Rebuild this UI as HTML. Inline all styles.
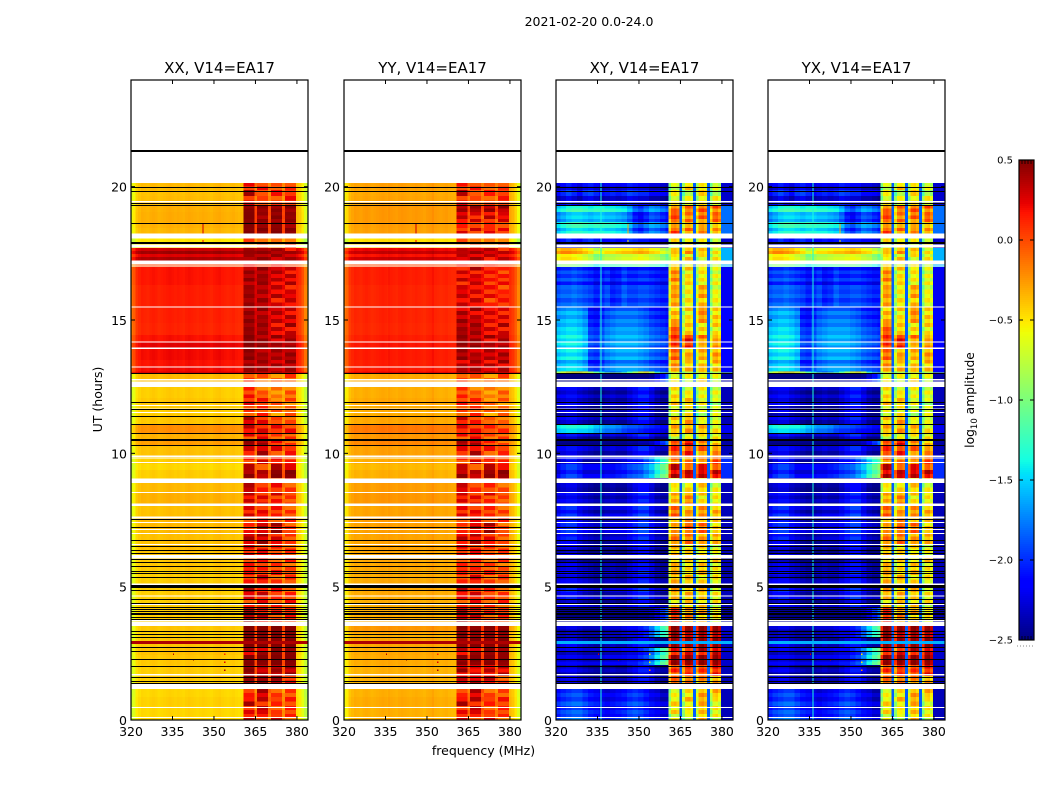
<!DOCTYPE html>
<html lang="en">
<head>
<meta charset="utf-8">
<title>2021-02-20 0.0-24.0</title>
<style>
html,body{margin:0;padding:0;background:#fff;width:1050px;height:800px;overflow:hidden}
svg{display:block}
text{font-family:"DejaVu Sans","Liberation Sans",sans-serif;fill:#000}
</style>
</head>
<body>
<svg id="figure" xmlns="http://www.w3.org/2000/svg" width="1050" height="800" viewBox="0 0 1050 800">
<rect x="0" y="0" width="1050" height="800" fill="#fff"/>
<text x="589" y="26" font-size="12.5" text-anchor="middle">2021-02-20 0.0-24.0</text>
<text x="483.5" y="755" font-size="12.5" text-anchor="middle">frequency (MHz)</text>
<text transform="translate(102,399.5) rotate(-90)" font-size="12.5" text-anchor="middle">UT (hours)</text>
<text transform="translate(974,400) rotate(-90)" font-size="12.3" text-anchor="middle">log<tspan font-size="8.5" dy="3">10</tspan><tspan dy="-3"> amplitude</tspan></text>
<g id="panels"></g>
<g id="colorbar"></g>
</svg>
<script>
// ---- categories and tick labels ----
const panelTitles = ['XX, V14=EA17', 'YY, V14=EA17', 'XY, V14=EA17', 'YX, V14=EA17'];
const xTicks = [320, 335, 350, 365, 380];
const yTicks = [0, 5, 10, 15, 20];
const colorbarTicks = [0.5, 0, -0.5, -1, -1.5, -2, -2.5];

// ---- time bands (UT hour at the top of each band, ordered downward) ----
const bandTopHours = [
 20.13,19.87,19.65,19.31,19.05,18.67,18.45,18.22,17.89,17.7,
 17.59,17.48,17.36,17.21,16.99,16.31,15.49,14.89,14.44,14.18,
 13.91,13.5,13.24,13.07,13.0,12.49,12.07,11.81,11.4,11.1,
 10.75,10.5,10.27,9.9,9.6,9.38,9.07,8.89,8.55,8.02,
 7.61,7.42,7.01,6.6,6.08,5.62,5.1,4.65,4.24,3.53,
 3.27,3.08,2.7,2.44,2.06,1.65,1.16,0.86,0.52,0.23];

// ---- XX off-RFI level of each band (log10 amplitude) ----
const xxBase = [
 -.36,-.38,-.37,-.33,-.32,-.33,-.35,-.5,-.5,.3,
 .42,.25,.38,0,.17,.14,.13,.12,.18,.24,
 .2,.18,.2,.25,-.36,-.42,-.4,-.42,-.4,-.22,
 -.33,-.27,-.38,-.42,-.46,-.42,-.42,-.36,-.33,-.38,
 -.35,-.36,-.38,-.38,-.4,-.42,-.42,-.42,-.42,-.4,
 -.42,-.4,-.38,-.4,-.42,-.42,-.45,-.43,-.45,-.45];

// ---- YY off-RFI level of each band ----
const yyBase = [
 -.28,-.3,-.29,-.26,-.26,-.27,-.28,-.48,-.45,.22,
 .32,.18,.3,0,.14,.12,.12,.11,.14,.17,
 .15,.14,.15,.2,-.3,-.32,-.3,-.32,-.3,-.15,
 -.25,-.2,-.28,-.32,-.36,-.33,-.32,-.27,-.25,-.29,
 -.27,-.28,-.29,-.29,-.3,-.31,-.31,-.32,-.32,-.25,
 -.32,-.3,-.3,-.31,-.33,-.33,-.33,-.31,-.33,-.33];

// ---- XX level of the four RFI blocks in each band ----
const xxBlocks = [
 [.15,.05,-.05,.05],[.3,.15,.1,.2],[.1,0,0,.1],[.48,.45,.45,.45],[.5,.42,.45,.45],
 [.48,.45,.45,.42],[.5,.48,.48,.48],[-.1,-.1,-.2,-.1],[-.1,-.1,-.1,-.1],[.4,.42,.35,.3],
 [.45,.45,.4,.4],[.35,.4,.3,.3],[.4,.42,.38,.35],[.1,.1,.1,.1],[.4,.42,.3,.25],
 [.42,.38,.25,.25],[.42,.4,.3,.28],[.45,.42,.25,.3],[.48,.4,.35,.38],[.48,.45,.4,.4],
 [.45,.4,.38,.4],[.42,.4,.35,.4],[.45,.42,.35,.42],[.45,.42,.38,.42],[.02,-.1,-.1,0],
 [.05,-.05,-.2,-.1],[.2,.1,-.1,-.1],[0,.05,-.15,-.1],[.35,.1,0,-.05],[.25,.25,.15,.1],
 [.1,.15,0,-.05],[.45,.4,.1,.05],[.2,.35,.1,.1],[.1,.15,.15,.1],[.25,.1,.3,.35],
 [.4,.35,.48,.48],[.1,.1,.1,.1],[.35,.1,.1,.05],[.25,.15,.15,0],[.15,.2,.1,0],
 [.1,.1,.05,0],[.1,.35,.35,.05],[.35,.3,.25,0],[.15,.2,.05,.02],[.15,.1,0,0],
 [.1,.2,.05,.02],[.3,.3,.1,.05],[.12,.15,.05,.05],[.4,.25,.1,.1],[.5,.5,.5,.5],
 [.5,.48,.5,.5],[.5,.5,.5,.5],[.3,.35,.5,.45],[.5,.5,.5,.5],[.45,.3,.4,.35],
 [.45,.45,.4,.2],[.1,.3,.05,0],[.3,.2,.05,.1],[.1,.3,0,.05],[.3,.05,.2,0]];

// ---- YY blocks read relative to XX: one shift per block, one per band ----
const yyBlockShift = [-.04, -.02, -.03, -.03];
const yyBandShift = [
 0,0,0,-.02,-.2,-.35,-.3,0,0,-.05,
 -.05,-.05,-.05,0,-.15,-.12,-.05,0,0,0,
 -.02,-.04,-.02,0,0,0,-.02,0,-.05,-.05,
 0,-.02,-.02,0,0,0,0,-.03,0,0,
 .05,-.02,-.02,0,0,0,-.02,0,-.02,0,
 -.02,0,0,0,-.08,-.12,0,.05,.02,0];

// ---- cross-hand (XY / YX) level of the four RFI blocks in each band ----
const crossBlocks = [
 [-.65,-.45,-.5,-.6],[-.6,-.6,-.45,-.65],[-.6,-.55,-.5,-.55],[-.05,-.1,-.02,-.05],[.02,-.12,-.1,-.05],
 [-.3,-.25,-.3,-.3],[.05,-.15,-.2,-.2],[-.55,-.5,-.55,-.6],[-.55,-.5,-.55,-.6],[-.4,-.3,-.4,-.5],
 [-.3,-.2,-.35,-.45],[-.55,-.5,-.55,-.6],[-.45,-.4,-.5,-.5],[-.5,-.5,-.5,-.6],[-.2,-.45,-.5,-.6],
 [-.25,-.5,-.3,-.55],[-.35,-.45,-.2,-.4],[0,-.4,-.45,-.45],[.1,.18,-.15,-.3],[.12,.1,-.3,-.2],
 [-.1,-.25,-.3,-.25],[-.15,-.4,-.4,-.35],[-.2,-.3,-.25,-.3],[-.6,-.6,-.55,-.7],[-.55,-.6,-.4,-.6],
 [-.5,-.5,-.55,-.6],[-.3,-.35,-.55,-.7],[-.6,-.5,-.7,-.6],[-.35,-.3,-.55,-.6],[-.3,-.2,-.3,-.5],
 [-.6,-.6,-.5,-.55],[0,.25,-.2,-.3],[.1,.15,-.1,-.2],[-.1,-.2,-.2,.05],[.3,.1,.2,.1],
 [.3,.35,.35,.3],[-.4,-.4,-.4,-.5],[-.5,-.45,-.4,-.5],[-.3,-.2,-.45,-.5],[-.1,-.2,-.2,-.3],
 [-.2,-.2,-.25,-.45],[-.25,0,-.1,-.35],[-.1,-.15,-.2,-.3],[-.35,-.4,-.45,-.6],[-.3,-.45,-.4,-.45],
 [-.3,-.35,-.4,-.5],[-.3,-.25,-.35,-.5],[-.4,-.4,-.4,-.55],[.15,-.2,-.3,-.5],[.5,.5,.5,.5],
 [.45,.35,.35,.4],[.5,.45,.5,.5],[.2,.2,.3,.3],[.5,.5,.5,.5],[.05,.1,.1,.15],
 [-.05,-.1,-.2,-.2],[-.55,-.5,-.2,-.3],[-.45,-.4,-.3,-.5],[-.5,-.5,-.35,-.55],[-.55,-.7,-.35,-.6]];

// ---- cross-hand spectral shapes below 360 MHz, each value covers 2 channels ----
const crossShapeNavy  = [-2.3,-2.25,-2.2,-2.2,-2.3,-2.35,-2.4,-2.45,-2.45,-2.4,-2.35,-2.4,-2.4,-2.3,-2.2,-2.1,-2.1,-2.25,-2.4,-2.45,-2.45];
const crossShapeMid   = [-2.2,-2.1,-2.05,-2.05,-2.2,-2.3,-2.35,-2.4,-2.4,-2.35,-2.3,-2.3,-2.3,-2.2,-2.1,-2.0,-2.0,-2.2,-2.35,-2.4,-2.45];
const crossShapeDark  = [-2.5,-2.5,-2.5,-2.5,-2.5,-2.5,-2.5,-2.5,-2.5,-2.5,-2.5,-2.5,-2.5,-2.45,-2.45,-2.4,-2.4,-2.35,-2.2,-2.0,-1.8];
const crossShapeTail  = [-2.4,-2.4,-2.35,-2.35,-2.4,-2.45,-2.45,-2.45,-2.45,-2.4,-2.4,-2.4,-2.35,-2.3,-2.3,-2.2,-2.1,-1.9,-1.6,-1.35,-1.2];
const crossShapeEarly = [-2.15,-2.05,-2.0,-1.95,-1.95,-2.05,-2.15,-2.2,-2.25,-2.3,-2.25,-2.2,-2.15,-2.05,-2.0,-2.05,-2.15,-2.25,-2.3,-2.4,-2.4];
const crossShapeDim   = [-2.0,-1.95,-1.95,-1.9,-1.95,-2.0,-2.05,-2.15,-2.1,-2.0,-2.15,-2.1,-1.95,-2.05,-2.05,-2.0,-2.0,-2.05,-2.1,-2.15,-2.15];
const crossShapeSky   = [-1.6,-1.55,-1.5,-1.5,-1.55,-1.65,-2.0,-2.05,-1.95,-1.8,-1.75,-1.7,-1.7,-1.7,-1.7,-1.75,-1.8,-1.9,-1.95,-2.0,-2.05];
const crossShapeAqua  = [-1.5,-1.4,-1.3,-1.25,-1.25,-1.3,-1.35,-1.3,-1.3,-1.35,-1.35,-1.4,-1.45,-1.6,-1.85,-1.95,-1.8,-1.65,-1.7,-1.8,-1.9];
const crossShapeLate  = [-2.3,-2.2,-2.1,-2.2,-2.3,-2.15,-2.1,-2.2,-2.3,-2.25,-2.2,-2.25,-2.2,-2.1,-2.15,-2.2,-2.2,-2.3,-2.3,-2.35,-2.4];
const crossShapeGlow  = [-.8,-.7,-.7,-.75,-.8,-.9,-1.0,-1.2,-1.1,-1.0,-1.0,-.95,-.9,-.9,-.85,-.8,-.85,-.95,-1.0,-1.15,-1.3];
const crossShapeStrip = [-1.5,-1.45,-1.4,-1.4,-1.45,-1.45,-1.5,-1.6,-1.7,-1.75,-1.75,-1.8,-1.9,-1.95,-1.95,-2.0,-2.05,-2.1,-2.15,-2.2,-2.25];
const crossShapeRise  = [-2.35,-2.2,-2.1,-2.1,-2.2,-2.35,-2.35,-2.35,-2.35,-2.3,-2.3,-2.25,-2.2,-2.1,-2.05,-2.0,-1.85,-1.7,-1.45,-1.25,-1.1];
const crossShapeFlare = [-.9,-.6,-.4,-.3,-.3,-.5,-.9,-1.3,-1.6,-1.9,-2.0,-1.9,-1.7,-1.3,-.9,-.5,-.4,-.8,-1.6,-1.9,-2.0];
const crossShapes = [crossShapeNavy, crossShapeMid, crossShapeDark, crossShapeTail, crossShapeEarly, crossShapeDim, crossShapeSky, crossShapeAqua, crossShapeLate, crossShapeGlow, crossShapeStrip, crossShapeRise, crossShapeFlare];
// level above 380 MHz belonging to each shape
const crossRightOfShape = [-2.35,-2.35,-2.4,-2.3,-2.35,-2.2,-2.15,-1.8,-2.3,-1.6,-2.2,-2.0,-2.2];

// ---- which shape each band uses, and that band's offset from it ----
const crossShapeOfBand = [
 8,8,8,7,7,7,7,8,8,9,
 9,9,9,9,5,5,6,6,6,6,
 6,6,6,12,2,0,0,0,0,10,
 0,2,0,11,11,11,0,0,0,1,
 1,1,1,0,0,0,1,0,2,3,
 3,0,3,3,0,0,4,4,4,4];
const crossOffset = [
 0,.1,-.05,.05,-.25,0,-.1,0,0,.35,
 .55,.1,.3,-.3,0,.1,-.1,.05,.1,.1,
 .05,0,.1,0,-.05,0,.08,-.05,.05,0,
 .02,0,.05,0,.1,.1,0,-.05,.05,0,
 .1,.05,0,-.05,0,.03,-.03,.05,0,.05,
 -.05,.05,.1,.15,-.05,0,.05,.1,.05,.2];

// ---- fine horizontal streaks read from the blocks ----
const streakOffsets = [.08,-.14,.12,-.07,.16,-.18,.05,-.03,.1,-.09];

// ---- channel spectra: 65 channels, 1 MHz each, beginning at 319.6 MHz ----
const channelStartMHz = 319.6;
const parallelLeftOffset = [
 -.3,-.2,-.07,-.03,0,-.01,-.02,0,.01,0,
 -.02,-.01,0,.01,.02,.01,0,.01,0,-.01,
 .01,.02,.01,0,-.01,0,.01,0,-.01,-.02,
 0,.01,.02,0,-.01,-.02,-.01,0,-.02,-.03,-.03];
const parallelWeights = [1,1,1,1,.45,1,1,1,1,.45,1,1,1,1,.45,1,1,1,1];
const parallelRightOffset = [-.03,-.08,-.18,-.32,-.5,-.6];
const crossBlockEdge = [-.4,-.04,0,-.1,-1.85,-.4,-.04,0,-.1,-1.85,-.4,-.04,0,-.1,-1.85,-.4,-.04,0,-.15];

// ---- flagged rows: white gaps (top and bottom hour) ----
const whiteGapTop = [
 19.46,18.24,17.83,17.23,17.04,15.5,14.19,13.96,13.25,12.78,
 12.69,11.82,11.69,11.55,9.91,9.84,9.67,9.06,8.55,8.12,
 7.63,7.43,7.17,7.02,6.6,6.19,5.11,4.87,4.67,4.36,
 3.76,3.69,1.72,1.35,0.49,0.11];
const whiteGapBottom = [
 19.41,18.06,17.71,17.08,17.0,15.46,14.15,13.92,13.21,12.74,
 12.49,11.78,11.65,11.51,9.87,9.8,9.63,8.89,8.51,8.02,
 7.56,7.39,7.13,6.98,6.56,6.06,5.07,4.83,4.63,4.32,
 3.72,3.53,1.67,1.16,0.45,0.07];

// ---- flagged rows: black lines (hour) ----
const blackLineHours = [
 19.97,19.82,19.37,19.31,18.62,13.0,11.91,11.65,11.4,11.1,
 10.75,10.3,7.53,7.22,6.74,6.54,6.38,6.25,6.03,5.91,
 5.78,5.6,5.5,5.35,5.06,4.88,4.53,4.4,4.22,4.17,
 4.09,3.85,3.77,3.35,3.23,3.12,2.73,2.59,2.29,2.01,
 1.62,1.47,1.38];
const thickBlackLineHours = [21.33, 17.87, 10.51, 4.97, 3.96];

// ---- narrow features: frequency, hour span, parallel and cross level ----
const spikeFreq     = [345.8, 345.8, 335.2, 353.7, 353.7, 353.7, 342.4];
const spikeTopHour  = [18.62, 18.0, 2.5, 2.5, 2.2, 1.9, 2.29];
const spikeEndHour  = [18.24, 17.92, 2.44, 2.44, 2.14, 1.84, 2.23];
const spikeParallel = [.3, .2, .35, .1, .25, .4, .5];
const spikeCross    = [-.4, -.5, .3, -.5, -.5, -.2, .3];
const yyLineFreq = [336, 352];
const yyLineOffset = [.05, .06];
const crossLineFreq = [336];
const crossLineLevel = [-1.35];
const fullRowHour = [2.96, 13.03];
const fullRowSpan = [0.11, 0.04];
const fullRowParallel = [.38, .3];
const fullRowCross = [-1.6, -.9];

// ---- axis geometry and scales ----
const panelLeft = [131, 344, 556, 768];
const panelWidth = 177;
const plotTop = 80;
const plotBottom = 720;
const xMin = 320, xMax = 384, yMin = 0, yMax = 24;
function xScale(panel, mhz) { return panelLeft[panel] + (mhz - xMin) / (xMax - xMin) * panelWidth; }
function yScale(hour) { return plotBottom - (hour - yMin) / (yMax - yMin) * (plotBottom - plotTop); }
const vMin = -2.5, vMax = 0.5;
const barTop = 160, barBottom = 640, barLeft = 1019, barRight = 1034;
function barScale(v) { return barBottom - (v - vMin) / (vMax - vMin) * (barBottom - barTop); }

function piece(x, pts) {
  for (let i = 1; i < pts.length; i++) {
    if (x <= pts[i][0]) {
      const a = pts[i - 1], b = pts[i];
      return a[1] + (b[1] - a[1]) * (x - a[0]) / (b[0] - a[0]);
    }
  }
  return pts[pts.length - 1][1];
}
function jet(v) {
  const t = Math.max(0, Math.min(1, (v - vMin) / (vMax - vMin)));
  const r = piece(t, [[0, 0], [.35, 0], [.66, 1], [.89, 1], [1, .5]]);
  const g = piece(t, [[0, 0], [.125, 0], [.375, 1], [.64, 1], [.91, 0], [1, 0]]);
  const b = piece(t, [[0, .5], [.11, 1], [.34, 1], [.65, 0], [1, 0]]);
  return 'rgb(' + Math.round(r * 255) + ',' + Math.round(g * 255) + ',' + Math.round(b * 255) + ')';
}

function streakAmount(level) { return Math.max(.15, Math.min(1, (.5 - level) * 5)); }

// value of one heatmap cell; row selects the streak
function cellValue(panel, band, ch, row) {
  if (panel < 2) {
    const base = panel === 0 ? xxBase[band] : yyBase[band];
    if (ch <= 40) return base + parallelLeftOffset[ch];
    if (ch >= 60) return base + parallelRightOffset[ch - 60];
    const pos = ch - 41;
    const block = Math.floor(pos / 5);
    let level = xxBlocks[band][block];
    if (panel === 1) level += yyBlockShift[block] + yyBandShift[band];
    const streak = streakOffsets[(row + block * 3) % streakOffsets.length] * streakAmount(level);
    return base + parallelWeights[pos] * (level + streak - base);
  }
  const shape = crossShapeOfBand[band];
  if (ch <= 40) return crossShapes[shape][Math.floor(ch / 2)] + crossOffset[band] + streakOffsets[row % streakOffsets.length] * .7;
  if (ch >= 60) return crossRightOfShape[shape];
  const pos = ch - 41;
  const edge = crossBlockEdge[pos];
  if (edge < -1) return edge;
  const block = Math.floor(pos / 5);
  const level = crossBlocks[band][block];
  return level + edge + streakOffsets[(row + block * 3) % streakOffsets.length] * streakAmount(level);
}

const NS = 'http://www.w3.org/2000/svg';
function make(tag, attrs, parent) {
  const el = document.createElementNS(NS, tag);
  for (const k in attrs) el.setAttribute(k, attrs[k]);
  parent.appendChild(el);
  return el;
}

const panelsRoot = document.getElementById('panels');
const defs = make('defs', {}, panelsRoot);

panelTitles.forEach(function (title, p) {
  const group = make('g', {}, panelsRoot);
  
  

  const clip = make('clipPath', { id: 'clip' + p }, defs);
  make('rect', { x: panelLeft[p], y: plotTop, width: panelWidth, height: plotBottom - plotTop }, clip);

  const heat = make('g', { 'clip-path': 'url(#clip' + p + ')', 'shape-rendering': 'crispEdges' }, group);
  
  

  // heatmap cells
  let rowCounter = 0;
  bandTopHours.forEach(function (topHour, b) {
    const bottomHour = b + 1 < bandTopHours.length ? bandTopHours[b + 1] : 0;
    const yA = yScale(topHour), yB = yScale(bottomHour);
    const rows = Math.max(1, Math.round((yB - yA) / 4));
    const rowH = (yB - yA) / rows;
    for (let ch = 0; ch < 65; ch++) {
      const xA = xScale(p, channelStartMHz + ch), xB = xScale(p, channelStartMHz + ch + 1);
      const streaked = p >= 2 || (ch > 40 && ch < 60);
      const n = streaked ? rows : 1;
      const h = streaked ? rowH : yB - yA;
      for (let r = 0; r < n; r++) {
        const cell = make('rect', { x: xA.toFixed(2), y: (yA + r * h).toFixed(2), width: (xB - xA + 0.4).toFixed(2), height: (h + 0.4).toFixed(2), fill: jet(cellValue(p, b, ch, rowCounter + r)) }, heat);
        
        
      }
    }
    rowCounter += rows;
    if (p === 1) {
      yyLineFreq.forEach(function (f, i) {
        const line = make('rect', { x: xScale(p, f).toFixed(2), y: yA.toFixed(2), width: 1.2, height: (yB - yA).toFixed(2), fill: jet(yyBase[b] + yyLineOffset[i]) }, heat);
        
        
      });
    }
  });

  // narrow vertical RFI line in the cross-hands
  if (p >= 2) {
    crossLineFreq.forEach(function (f, i) {
      const line = make('rect', { x: xScale(p, f).toFixed(2), y: yScale(bandTopHours[0]).toFixed(2), width: 1.3, height: (yScale(0) - yScale(bandTopHours[0])).toFixed(2), fill: jet(crossLineLevel[i]) }, heat);
      
      
    });
  }

  // full-width bright rows
  fullRowHour.forEach(function (h, i) {
    const level = p < 2 ? fullRowParallel[i] : fullRowCross[i];
    const row = make('rect', { x: panelLeft[p], y: yScale(h).toFixed(2), width: panelWidth, height: (yScale(h - fullRowSpan[i]) - yScale(h)).toFixed(2), fill: jet(level) }, heat);
    
    
  });

  // short spikes
  spikeFreq.forEach(function (f, i) {
    const level = p < 2 ? spikeParallel[i] : spikeCross[i];
    const spike = make('rect', { x: xScale(p, f).toFixed(2), y: yScale(spikeTopHour[i]).toFixed(2), width: 1.2, height: (yScale(spikeEndHour[i]) - yScale(spikeTopHour[i])).toFixed(2), fill: jet(level) }, heat);
    
    
  });

  // white flagged gaps
  whiteGapTop.forEach(function (h, i) {
    const gap = make('rect', { x: panelLeft[p], y: yScale(h).toFixed(2), width: panelWidth, height: (yScale(whiteGapBottom[i]) - yScale(h)).toFixed(2), fill: '#fff' }, heat);
    
    
  });

  // black lines
  blackLineHours.forEach(function (h) {
    const ln = make('rect', { x: panelLeft[p], y: Math.round(yScale(h)), width: panelWidth, height: 1, fill: '#000' }, heat);
    
    
  });
  thickBlackLineHours.forEach(function (h) {
    const ln = make('rect', { x: panelLeft[p], y: Math.round(yScale(h)) - 1, width: panelWidth, height: 2, fill: '#000' }, heat);
    
    
  });

  // frame
  const frame = make('rect', { x: panelLeft[p], y: plotTop, width: panelWidth, height: plotBottom - plotTop, fill: 'none', stroke: '#000', 'stroke-width': 1.2 }, group);
  
  

  // x ticks
  xTicks.forEach(function (t) {
    const x = xScale(p, t);
    const tickA = make('line', { x1: x, x2: x, y1: plotBottom, y2: plotBottom - 4, stroke: '#000' }, group);
    
    
    const tickB = make('line', { x1: x, x2: x, y1: plotTop, y2: plotTop + 4, stroke: '#000' }, group);
    
    
    const label = make('text', { x: x, y: 736, 'font-size': 12.5, 'text-anchor': 'middle' }, group);
    label.textContent = String(t);
    
    
  });

  // y ticks
  yTicks.forEach(function (t) {
    const y = yScale(t);
    const tickA = make('line', { x1: panelLeft[p], x2: panelLeft[p] + 4, y1: y, y2: y, stroke: '#000' }, group);
    
    
    const tickB = make('line', { x1: panelLeft[p] + panelWidth, x2: panelLeft[p] + panelWidth - 4, y1: y, y2: y, stroke: '#000' }, group);
    
    
    const label = make('text', { x: panelLeft[p] - 4, y: y + 5, 'font-size': 12.5, 'text-anchor': 'end' }, group);
    label.textContent = String(t);
    
    
  });

  // title
  const head = make('text', { x: panelLeft[p] + panelWidth / 2, y: 73, 'font-size': 15, 'text-anchor': 'middle' }, group);
  head.textContent = title;
  
  
});

// ---- colorbar ----
const cbar = document.getElementById('colorbar');
const ramp = make('g', { 'shape-rendering': 'crispEdges' }, cbar);


for (let y = barTop; y < barBottom; y += 2) {
  const v = vMax - (y + 1 - barTop) / (barBottom - barTop) * (vMax - vMin);
  const seg = make('rect', { x: barLeft, y: y, width: barRight - barLeft, height: 2, fill: jet(v) }, ramp);
  
  
}
const barFrame = make('rect', { x: barLeft, y: barTop, width: barRight - barLeft, height: barBottom - barTop, fill: 'none', stroke: '#000', 'stroke-width': 1.2 }, cbar);


colorbarTicks.forEach(function (v) {
  const y = barScale(v);
  const tickA = make('line', { x1: barLeft, x2: barLeft + 4, y1: y, y2: y, stroke: '#000' }, cbar);
  
  
  const tickB = make('line', { x1: barRight, x2: barRight - 4, y1: y, y2: y, stroke: '#000' }, cbar);
  
  
  const label = make('text', { x: 1013, y: y + 3.5, 'font-size': 10, 'text-anchor': 'end' }, cbar);
  label.textContent = v.toFixed(1).replace('-', '\u2212');
  
  
});
for (let i = 1; i < 5; i++) {
  const x = barLeft + i * (barRight - barLeft) / 5;
  const tickTop = make('line', { x1: x, x2: x, y1: barTop, y2: barTop + 4, stroke: '#000', 'stroke-width': 0.8 }, cbar);
  
  
  const tickBottom = make('line', { x1: x, x2: x, y1: barBottom, y2: barBottom - 4, stroke: '#000', 'stroke-width': 0.8 }, cbar);
  
  
}
const dots = make('line', { x1: 1017, x2: 1035, y1: 646, y2: 646, stroke: '#888', 'stroke-width': 1, 'stroke-dasharray': '1 2' }, cbar);


</script>
</body>
</html>
